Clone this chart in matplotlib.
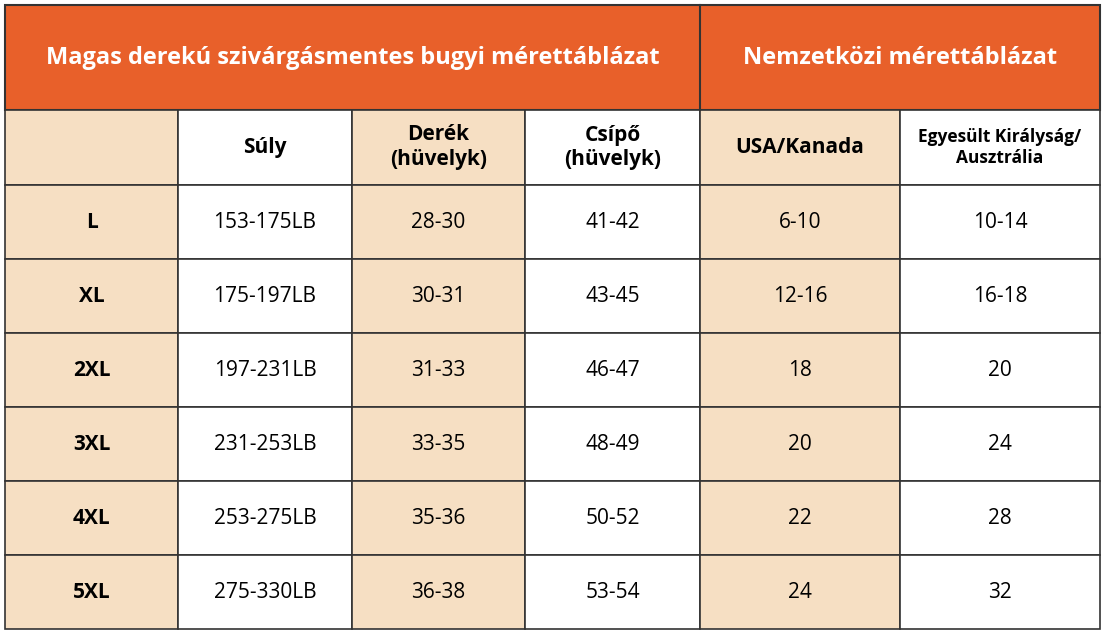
import matplotlib
matplotlib.use("Agg")
import matplotlib.pyplot as plt
from matplotlib.patches import Rectangle

title_left = "Magas derekú szivárgásmentes bugyi mérettáblázat"
title_right = "Nemzetközi mérettáblázat"
headers = ["", "Súly", "Derék\n(hüvelyk)", "Csípő\n(hüvelyk)", "USA/Kanada", "Egyesült Királyság/\nAusztrália"]
sizes = ["L", "XL", "2XL", "3XL", "4XL", "5XL"]
weight = ["153-175LB", "175-197LB", "197-231LB", "231-253LB", "253-275LB", "275-330LB"]
waist = ["28-30", "30-31", "31-33", "33-35", "35-36", "36-38"]
hip = ["41-42", "43-45", "46-47", "48-49", "50-52", "53-54"]
usa = ["6-10", "12-16", "18", "20", "22", "24"]
uk = ["10-14", "16-18", "20", "24", "28", "32"]

W, H = 1105, 633
xs = [5, 178, 352, 525, 700, 900, 1100]
ys = [5, 110, 185, 259, 333, 407, 481, 555, 629]
orange = "#E8602A"
tan = "#F6DFC3"
line = "#333333"

fig = plt.figure(figsize=(W/100, H/100), dpi=100)
ax = fig.add_axes([0, 0, 1, 1])
ax.set_xlim(0, W); ax.set_ylim(H, 0); ax.axis("off")
plt.rcParams['font.family'] = ['Open Sans', 'DejaVu Sans']

ax.add_patch(Rectangle((xs[0], ys[0]), xs[-1]-xs[0], ys[1]-ys[0], fc=orange, ec=line, lw=1.5))
ax.plot([xs[4], xs[4]], [ys[0], ys[1]], color=line, lw=1.5)
ax.text((xs[0]+xs[4])/2, 58, title_left, color="white", fontsize=17, fontweight="bold", ha="center", va="center")
ax.text((xs[4]+xs[6])/2, 58, title_right, color="white", fontsize=17, fontweight="bold", ha="center", va="center")

cols = [sizes, weight, waist, hip, usa, uk]
for c in range(6):
    fc = tan if c in (0, 2, 4) else "white"
    for r in range(7):
        y0, y1 = ys[r+1], ys[r+2]
        ax.add_patch(Rectangle((xs[c], y0), xs[c+1]-xs[c], y1-y0, fc=fc, ec=line, lw=1.2))
        if r == 0:
            txt = headers[c]
            fs = 12.5 if c == 5 else 15
            ax.text((xs[c]+xs[c+1])/2, (y0+y1)/2, txt, fontsize=fs, fontweight="bold", ha="center", va="center", linespacing=1.25)
        else:
            txt = cols[c][r-1]
            ax.text((xs[c]+xs[c+1])/2, (y0+y1)/2, txt, fontsize=15, fontweight="bold" if c == 0 else "normal", ha="center", va="center")

fig.savefig("out.png", dpi=100, facecolor="white")
